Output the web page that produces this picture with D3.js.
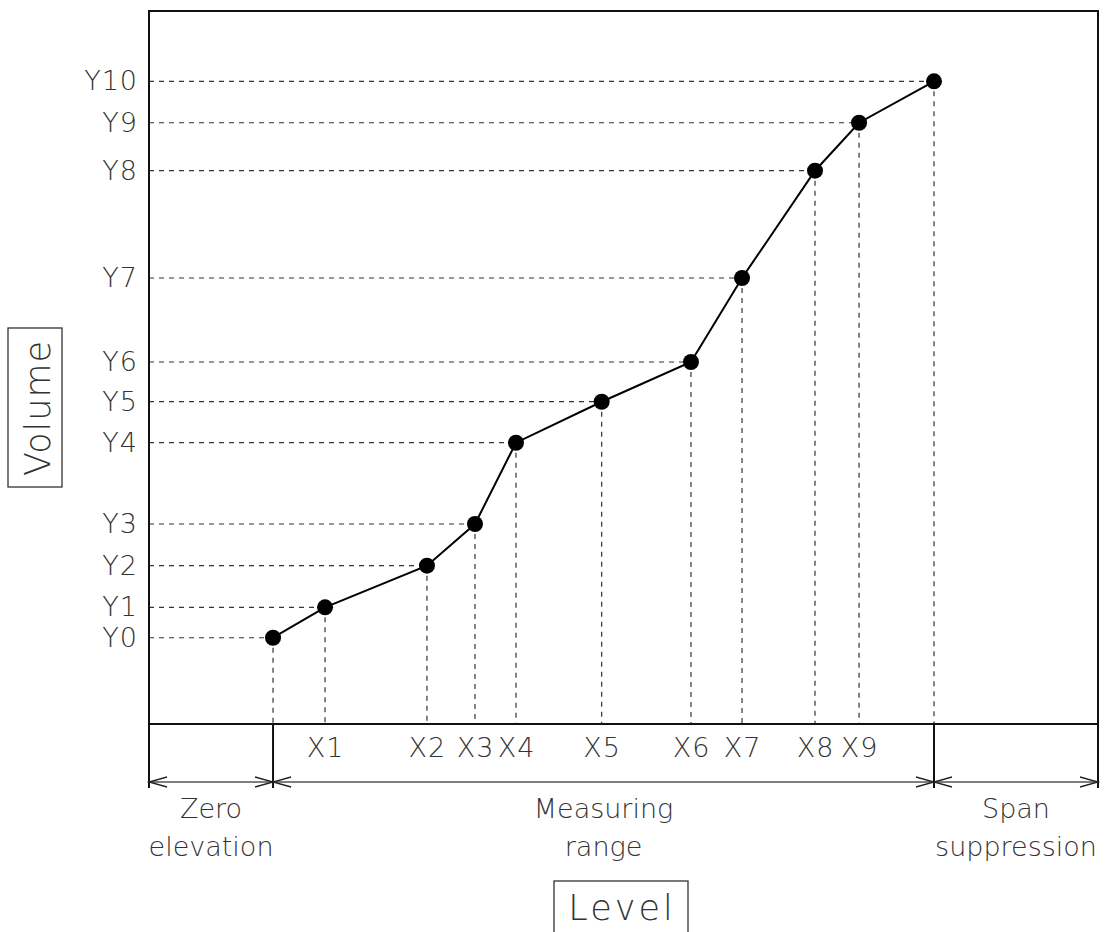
<!DOCTYPE html>
<html lang="en">
<head>
    <meta charset="UTF-8">
    <title>Level / Volume</title>
    <script src="https://cdn.jsdelivr.net/npm/d3@7"></script>
    <style>
        body { margin: 0; background: #fff; }
        text { font-family: "DejaVu Sans", sans-serif; font-weight: 200; fill: #333; }
    </style>
</head>
<body>
<svg width="1117" height="932"></svg>
<script>

    // point values (level in % of box width, volume in % of box height)
    const levelValues  = [13.07, 18.55, 29.29, 34.35, 38.67, 47.7, 57.11, 62.49, 70.18, 74.82, 82.72]
    const volumeValues = [12.1, 16.37, 22.2, 28.05, 39.45, 45.2, 50.77, 62.55, 77.6, 84.33, 90.14]
    const yLabels = ["Y0","Y1","Y2","Y3","Y4","Y5","Y6","Y7","Y8","Y9","Y10"]
    const xLabels = ["","X1","X2","X3","X4","X5","X6","X7","X8","X9",""]
    // level ranges below the axis
    const rangeBounds = [0, 13.07, 82.72, 100]
    const rangeNames = [["Zero","elevation"], ["Measuring","range"], ["Span","suppression"]]

    const boxLeft = 149, boxRight = 1098, boxTop = 11, boxBottom = 724

    const svg = d3.select("svg")

    const x = d3.scaleLinear().domain([0,100]).range([boxLeft,boxRight])
    const y = d3.scaleLinear().domain([0,100]).range([boxBottom,boxTop])

    const pts = levelValues.map((d,i)=>({lx:d, vy:volumeValues[i], i:i}))

    // dashed guides
    svg.append("g").selectAll("line").data(pts).join("line")
        .attr("x1", boxLeft).attr("x2", d=>x(d.lx))
        .attr("y1", d=>y(d.vy)).attr("y2", d=>y(d.vy))
        .attr("stroke","#333").attr("stroke-width",1.2).attr("stroke-dasharray","5,5")
    svg.append("g").selectAll("line").data(pts).join("line")
        .attr("x1", d=>x(d.lx)).attr("x2", d=>x(d.lx))
        .attr("y1", d=>y(d.vy)).attr("y2", boxBottom)
        .attr("stroke","#333").attr("stroke-width",1.2).attr("stroke-dasharray","5,5")

    // frame
    svg.append("rect")
        .attr("x",boxLeft).attr("y",boxTop).attr("width",boxRight-boxLeft).attr("height",boxBottom-boxTop)
        .attr("fill","none").attr("stroke","#111").attr("stroke-width",2)

    // curve
    const line = d3.line().x(d=>x(d.lx)).y(d=>y(d.vy))
    svg.append("path").datum(pts).attr("d",line)
        .attr("fill","none").attr("stroke","#000").attr("stroke-width",2)
    svg.append("g").selectAll("circle").data(pts).join("circle")
        .attr("cx",d=>x(d.lx)).attr("cy",d=>y(d.vy)).attr("r",8).attr("fill","#000")

    // axes labels
    const yAxis = d3.axisLeft(y).tickValues(volumeValues)
        .tickFormat((d,i)=>yLabels[i]).tickSize(0).tickPadding(11)
    const ga = svg.append("g").attr("transform",`translate(${boxLeft},0)`).call(yAxis)
    ga.select(".domain").remove()
    ga.attr("font-family",null).attr("font-size",null)
    ga.selectAll("text").style("font-size","27px").attr("fill","#333").attr("letter-spacing",1)

    const xAxis = d3.axisBottom(x).tickValues(levelValues.slice(1,10))
        .tickFormat((d,i)=>xLabels[i+1]).tickSize(0).tickPadding(14)
    const gb = svg.append("g").attr("transform",`translate(0,${boxBottom})`).call(xAxis)
    gb.select(".domain").remove()
    gb.attr("font-family",null).attr("font-size",null)
    gb.selectAll("text").style("font-size","27px").attr("fill","#333").attr("letter-spacing",1)

    // dimension lines
    const arrowY = 782
    svg.append("g").selectAll("line").data(rangeBounds).join("line")
        .attr("x1",d=>x(d)).attr("x2",d=>x(d))
        .attr("y1",boxBottom).attr("y2",arrowY+6)
        .attr("stroke","#111").attr("stroke-width",2)
    svg.append("line").attr("x1",x(rangeBounds[0])).attr("x2",x(rangeBounds[3]))
        .attr("y1",arrowY).attr("y2",arrowY).attr("stroke","#555").attr("stroke-width",1.6)

    const arrows = svg.append("g").attr("fill","none").attr("stroke","#222").attr("stroke-width",1.3)
    for (let k=0;k<rangeNames.length;k++) {
        const a = x(rangeBounds[k]), b = x(rangeBounds[k+1])
        arrows.append("path").attr("d",`M${a+18},${arrowY-5}L${a},${arrowY}L${a+18},${arrowY+5}`)
        arrows.append("path").attr("d",`M${b-18},${arrowY-5}L${b},${arrowY}L${b-18},${arrowY+5}`)
        const cx = (a+b)/2
        const t = svg.append("text").attr("text-anchor","middle").attr("font-size",27)
        t.append("tspan").attr("x",cx).attr("y",818).text(rangeNames[k][0])
        t.append("tspan").attr("x",cx).attr("y",856).text(rangeNames[k][1])
    }

    // axis titles in boxes
    svg.append("rect").attr("x",554).attr("y",881).attr("width",134).attr("height",60)
        .attr("fill","none").attr("stroke","#333").attr("stroke-width",1.3)
    svg.append("text").attr("x",622).attr("y",920).attr("text-anchor","middle")
        .attr("font-size",35).attr("letter-spacing",3).text("Level")

    svg.append("rect").attr("x",8).attr("y",328).attr("width",54).attr("height",159)
        .attr("fill","none").attr("stroke","#333").attr("stroke-width",1.3)
    svg.append("text").attr("transform","translate(50,408) rotate(-90)").attr("text-anchor","middle")
        .attr("font-size",35).attr("letter-spacing",1).text("Volume")

</script>
</body>
</html>
